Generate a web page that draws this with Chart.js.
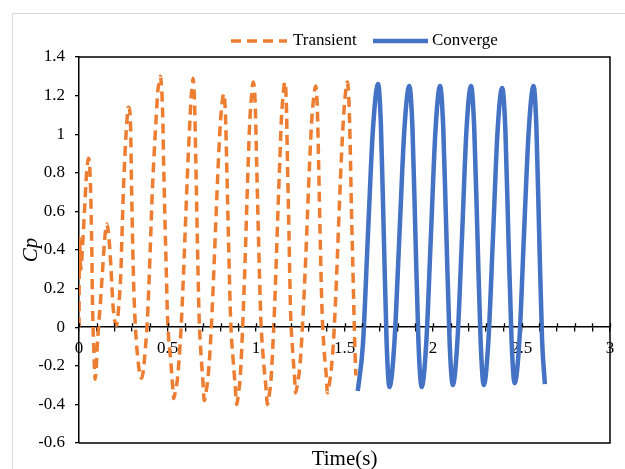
<!DOCTYPE html>
<html>
<head>
<meta charset="utf-8">
<script src="https://cdn.jsdelivr.net/npm/chart.js@4.4.1/dist/chart.umd.min.js"></script>
<style>
  html, body { margin: 0; padding: 0; background: #fff; }
</style>
</head>
<body>
<canvas id="chart" width="625" height="469"></canvas>
<script>
// series names
const seriesNames = ['Transient', 'Converge'];

// transient part (dashed, orange)
const transientT = [
  0.000, 0.002, 0.010, 0.020, 0.032, 0.043, 0.053, 0.060, 0.066, 0.072, 0.077, 0.082, 0.086, 0.091,
  0.097, 0.103, 0.112, 0.122, 0.132, 0.143, 0.151, 0.157, 0.165, 0.172, 0.180, 0.186, 0.194, 0.203, 0.212,
  0.220, 0.228, 0.236, 0.242, 0.251, 0.261, 0.270, 0.279, 0.289, 0.293, 0.296, 0.300, 0.304, 0.309, 0.315,
  0.322, 0.331, 0.343, 0.354, 0.364, 0.374, 0.386, 0.395, 0.405, 0.414, 0.424, 0.435, 0.447, 0.453, 0.459,
  0.469, 0.474, 0.478, 0.482, 0.487, 0.493, 0.499, 0.506, 0.514, 0.523, 0.530, 0.535,
  0.545, 0.556, 0.566, 0.577, 0.588, 0.600, 0.612, 0.624, 0.634, 0.639, 0.644,
  0.652, 0.660, 0.668, 0.678, 0.690, 0.700, 0.708,
  0.719, 0.730, 0.741, 0.752, 0.763, 0.774, 0.785, 0.796, 0.807, 0.818,
  0.827, 0.836, 0.845, 0.857, 0.871, 0.882, 0.891,
  0.900, 0.910, 0.919, 0.928, 0.938, 0.947, 0.956, 0.965, 0.975, 0.984,
  0.995, 1.004, 1.014, 1.027, 1.042, 1.055, 1.065,
  1.075, 1.085, 1.094, 1.104, 1.114, 1.124, 1.134, 1.143, 1.153, 1.163,
  1.171, 1.178, 1.186, 1.195, 1.207, 1.217, 1.224,
  1.235, 1.247, 1.258, 1.269, 1.281, 1.292, 1.303, 1.314, 1.326, 1.337,
  1.346, 1.354, 1.362, 1.373, 1.385, 1.396, 1.404,
  1.415, 1.426, 1.438, 1.449, 1.460, 1.471, 1.482, 1.494, 1.505, 1.516,
  1.526, 1.532, 1.539, 1.546, 1.554, 1.559, 1.564
];
const transientCp = [
  0.00, 0.46, 0.30, 0.42, 0.62, 0.80, 0.875, 0.84, 0.70, 0.42, 0.09, -0.07, -0.18, -0.27,
  -0.22, -0.10, 0.02, 0.14, 0.28, 0.43, 0.51, 0.535, 0.50, 0.43, 0.32, 0.21, 0.09, 0.03, 0.01,
  0.06, 0.15, 0.27, 0.45, 0.71, 0.92, 1.06, 1.14, 1.10, 0.96, 0.78, 0.58, 0.40, 0.22, 0.07,
  -0.05, -0.15, -0.24, -0.265, -0.22, -0.12, 0.03, 0.22, 0.47, 0.70, 0.89, 1.07, 1.24, 1.26, 1.30,
  1.20, 1.06, 0.86, 0.69, 0.50, 0.30, 0.08, -0.05, -0.13, -0.23, -0.32, -0.37,
  -0.33, -0.27, -0.16, 0.00, 0.22, 0.50, 0.78, 1.02, 1.20, 1.24, 1.29,
  1.19, 0.86, 0.49, 0.07, -0.15, -0.28, -0.38,
  -0.33, -0.25, -0.11, 0.08, 0.32, 0.57, 0.81, 1.02, 1.15, 1.21,
  1.11, 0.79, 0.44, 0.03, -0.17, -0.30, -0.40,
  -0.35, -0.27, -0.12, 0.08, 0.33, 0.60, 0.85, 1.07, 1.20, 1.27,
  1.17, 0.84, 0.47, 0.05, -0.17, -0.30, -0.40,
  -0.35, -0.27, -0.12, 0.08, 0.33, 0.60, 0.85, 1.07, 1.20, 1.27,
  1.17, 0.85, 0.50, 0.09, -0.12, -0.25, -0.34,
  -0.29, -0.21, -0.07, 0.12, 0.36, 0.61, 0.85, 1.06, 1.19, 1.25,
  1.15, 0.84, 0.49, 0.09, -0.12, -0.24, -0.34,
  -0.29, -0.21, -0.07, 0.13, 0.37, 0.63, 0.87, 1.08, 1.21, 1.27,
  1.15, 0.95, 0.62, 0.36, 0.05, -0.12, -0.25
];

// converged part (solid, blue)
const convergeT = [
  1.575, 1.604, 1.632, 1.661, 1.690, 1.706, 1.722, 1.738, 1.754,
  1.782, 1.810, 1.838, 1.866, 1.884, 1.901, 1.918, 1.936,
  1.962, 1.988, 2.014, 2.040, 2.058, 2.076, 2.094, 2.112,
  2.138, 2.164, 2.189, 2.215, 2.233, 2.251, 2.269, 2.287,
  2.313, 2.339, 2.365, 2.391, 2.409, 2.426, 2.444, 2.461,
  2.488, 2.514, 2.541, 2.568, 2.584, 2.600, 2.616, 2.632
];
const convergeCp = [
  -0.33, -0.09, 0.47, 1.03, 1.26, 1.04, 0.48, -0.08, -0.31,
  -0.08, 0.47, 1.02, 1.25, 1.03, 0.47, -0.08, -0.31,
  -0.08, 0.47, 1.02, 1.25, 1.03, 0.47, -0.08, -0.30,
  -0.07, 0.47, 1.02, 1.25, 1.03, 0.48, -0.07, -0.30,
  -0.07, 0.47, 1.02, 1.24, 1.02, 0.47, -0.07, -0.29,
  -0.07, 0.48, 1.02, 1.25, 1.04, 0.48, -0.06, -0.295
];

// axes
const yTicks = [-0.6, -0.4, -0.2, 0, 0.2, 0.4, 0.6, 0.8, 1, 1.2, 1.4];
const yTickLabels = ['-0.6', '-0.4', '-0.2', '0', '0.2', '0.4', '0.6', '0.8', '1', '1.2', '1.4'];
const xTicks = [0, 0.1, 0.2, 0.3, 0.4, 0.5, 0.6, 0.7, 0.8, 0.9, 1, 1.1, 1.2, 1.3, 1.4, 1.5,
  1.6, 1.7, 1.8, 1.9, 2, 2.1, 2.2, 2.3, 2.4, 2.5, 2.6, 2.7, 2.8, 2.9, 3];
const xLabelTicks = [0, 0.5, 1, 1.5, 2, 2.5, 3];
const xLabels = ['0', '0.5', '1', '1.5', '2', '2.5', '3'];
const xTitle = 'Time(s)';
const yTitle = 'Cp';

const serif = "'Liberation Serif', 'Times New Roman', serif";
const orange = '#ED7D31';
const blue = '#4472C4';

const toPoints = (xs, ys) => xs.map((x, i) => ({ x: x, y: ys[i] }));

// frame, plot box, crossing ticks, titles and legend
const decor = {
  id: 'decor',
  beforeDraw(chart) {
    const ctx = chart.ctx;
    ctx.save();
    ctx.strokeStyle = '#d9d9d9';
    ctx.lineWidth = 1;
    ctx.strokeRect(12.5, 13.5, 700, 600);
    ctx.restore();
  },
  afterDraw(chart) {
    const ctx = chart.ctx;
    const a = chart.chartArea;
    const xs = chart.scales.x;
    const ys = chart.scales.y;
    ctx.save();
    ctx.strokeStyle = '#000';
    ctx.lineWidth = 1.5;
    ctx.beginPath();
    ctx.moveTo(a.left, a.top);
    ctx.lineTo(a.right, a.top);
    ctx.lineTo(a.right, a.bottom);
    ctx.lineTo(a.left, a.bottom);
    ctx.stroke();

    // upper half of the x tick marks
    const y0 = ys.getPixelForValue(0);
    ctx.lineWidth = 1.3;
    ctx.beginPath();
    xTicks.forEach(v => {
      const px = Math.round(xs.getPixelForValue(v)) + 0.5;
      ctx.moveTo(px, y0 - 4);
      ctx.lineTo(px, y0);
    });
    ctx.stroke();

    // axis titles
    ctx.fillStyle = '#000';
    ctx.textAlign = 'center';
    ctx.textBaseline = 'middle';
    ctx.font = '21px ' + serif;
    ctx.fillText(xTitle, (a.left + a.right) / 2, 459);
    ctx.save();
    ctx.translate(31, (a.top + a.bottom) / 2);
    ctx.rotate(-Math.PI / 2);
    ctx.font = 'italic 21px ' + serif;
    ctx.fillText(yTitle, 0, 0);
    ctx.restore();

    // legend
    const ly = 41;
    const items = [
      { x0: 231, x1: 287, tx: 293 },
      { x0: 373, x1: 428, tx: 432 }
    ];
    ctx.font = '17px ' + serif;
    ctx.textAlign = 'left';
    items.forEach((it, i) => {
      const ds = chart.data.datasets[i];
      ctx.strokeStyle = ds.borderColor;
      ctx.lineWidth = ds.borderWidth;
      ctx.setLineDash(ds.borderDash || []);
      ctx.beginPath();
      ctx.moveTo(it.x0, ly);
      ctx.lineTo(it.x1, ly);
      ctx.stroke();
      ctx.setLineDash([]);
      ctx.fillStyle = '#000';
      ctx.fillText(seriesNames[i], it.tx, ly);
    });
    ctx.restore();
  }
};

new Chart(document.getElementById('chart'), {
  type: 'line',
  data: {
    datasets: [
      {
        label: seriesNames[0],
        data: toPoints(transientT, transientCp),
        borderColor: orange,
        borderWidth: 3.5,
        borderDash: [10, 6],
        pointRadius: 0,
        cubicInterpolationMode: 'monotone',
        fill: false
      },
      {
        label: seriesNames[1],
        data: toPoints(convergeT, convergeCp),
        borderColor: blue,
        borderWidth: 4.5,
        pointRadius: 0,
        cubicInterpolationMode: 'monotone',
        fill: false
      }
    ]
  },
  options: {
    responsive: false,
    animation: false,
    devicePixelRatio: 1,
    layout: { padding: { left: 39, right: 15, top: 57, bottom: 26 } },
    plugins: { legend: { display: false }, tooltip: { enabled: false } },
    scales: {
      x: {
        type: 'linear',
        min: 0,
        max: 3,
        position: { y: 0 },
        afterBuildTicks: (s) => { s.ticks = xTicks.map(v => ({ value: v })); },
        ticks: {
          autoSkip: false,
          maxRotation: 0,
          padding: 7,
          color: '#000',
          font: { family: serif, size: 17 },
          callback: (v) => {
            const i = xLabelTicks.findIndex(t => Math.abs(t - v) < 1e-6);
            return i >= 0 ? xLabels[i] : '';
          }
        },
        grid: { drawOnChartArea: false, color: '#000', tickLength: 4, lineWidth: 1.3 },
        border: { color: '#000', width: 1.5 }
      },
      y: {
        type: 'linear',
        min: -0.6,
        max: 1.4,
        afterBuildTicks: (s) => { s.ticks = yTicks.map(v => ({ value: v })); },
        afterFit: (s) => { s.width = 40; },
        ticks: {
          padding: 10,
          color: '#000',
          font: { family: serif, size: 17 },
          callback: (v) => {
            const i = yTicks.findIndex(t => Math.abs(t - v) < 1e-6);
            return i >= 0 ? yTickLabels[i] : '';
          }
        },
        grid: { drawOnChartArea: false, color: '#000', tickLength: 4, lineWidth: 1.3 },
        border: { color: '#000', width: 1.5 }
      }
    }
  },
  plugins: [decor]
});
</script>
</body>
</html>
